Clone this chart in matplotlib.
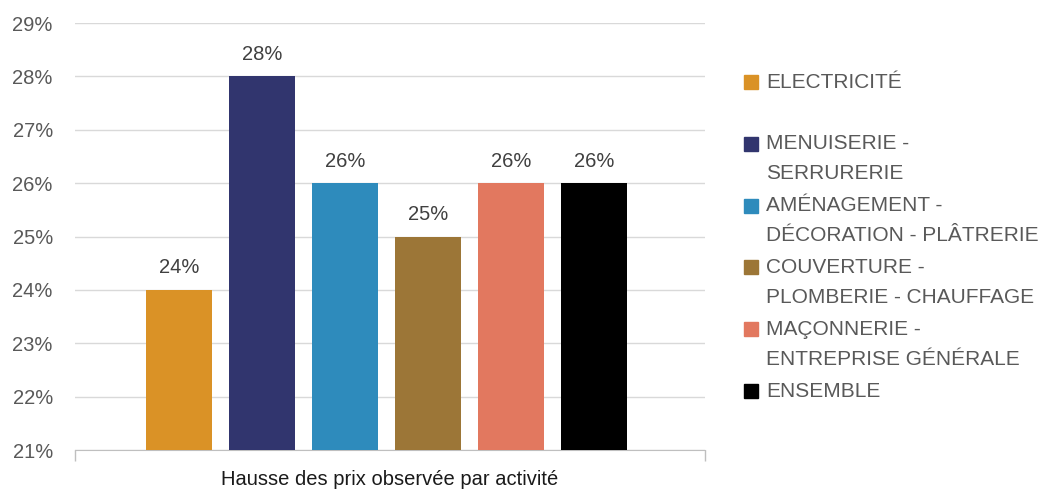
import numpy as np
import matplotlib.pyplot as plt
from matplotlib.patches import Rectangle
from matplotlib.ticker import FuncFormatter

categories = ['ELECTRICITÉ', 'MENUISERIE -\nSERRURERIE', 'AMÉNAGEMENT -\nDÉCORATION - PLÂTRERIE',
              'COUVERTURE -\nPLOMBERIE - CHAUFFAGE', 'MAÇONNERIE -\nENTREPRISE GÉNÉRALE', 'ENSEMBLE']
values = [0.24, 0.28, 0.26, 0.25, 0.26, 0.26]
colors = ['#DA9226', '#31356E', '#2E8BBC', '#9C7637', '#E2785F', '#000000']
xlabel = 'Hausse des prix observée par activité'

plt.rcParams['font.family'] = ['Liberation Sans', 'DejaVu Sans']
grey = '#595959'
fs = 14.5

fig = plt.figure(figsize=(10.47, 4.9), dpi=100)
ax = fig.add_axes([75 / 1047, 1 - 450 / 490, 630 / 1047, 427 / 490])

# one category, six series side by side
step = 83 / 630
width = 66 / 630
first = (146 - 75 + 33) / 630
for i, (v, c) in enumerate(zip(values, colors)):
    x = first + i * step
    ax.bar(x, v, width=width, color=c, zorder=3)
    ax.annotate(f'{v * 100:.0f}%', (x, v), xytext=(0, 9), textcoords='offset points',
                ha='center', va='bottom', fontsize=fs, color='#404040')

ax.set_xlim(0, 1)
ax.set_ylim(0.21, 0.29)
ax.set_yticks(np.arange(0.21, 0.2901, 0.01))
ax.yaxis.set_major_formatter(FuncFormatter(lambda y, _: f'{y * 100:.0f}%'))
ax.tick_params(axis='y', length=0, labelsize=fs, labelcolor=grey, pad=16)
ax.set_xticks([0, 1])
ax.set_xticklabels(['', ''])
ax.tick_params(axis='x', length=8, color='#BFBFBF', width=1)
ax.grid(axis='y', color='#D9D9D9', linewidth=1, zorder=0)
for s in ['top', 'right', 'left']:
    ax.spines[s].set_visible(False)
ax.spines['bottom'].set_color('#BFBFBF')
ax.set_xlabel(xlabel, fontsize=fs, color='#1a1a1a', labelpad=3)

# legend drawn by hand, one slot per series
y0 = 82
slot = 61.8
for i, (lab, c) in enumerate(zip(categories, colors)):
    yc = y0 + i * slot
    fig.patches.append(Rectangle((744 / 1047, 1 - (yc + 7) / 490), 14 / 1047, 14 / 490,
                                 transform=fig.transFigure, color=c))
    for k, line in enumerate(lab.split('\n')):
        fig.text(766 / 1047, 1 - (yc + k * 30) / 490, line, ha='left', va='center',
                 fontsize=15, color=grey)

fig.savefig('out.png', dpi=100)
